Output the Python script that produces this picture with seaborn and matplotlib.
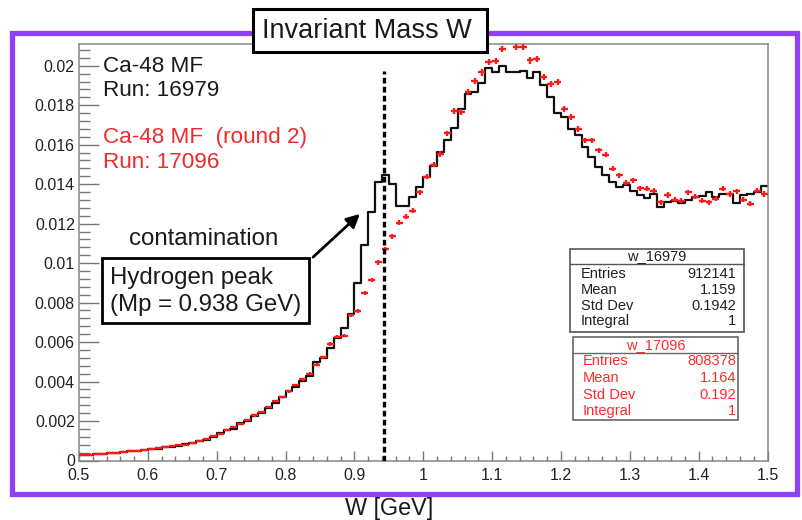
import numpy as np
import pandas as pd
import matplotlib
matplotlib.use("Agg")
import matplotlib.pyplot as plt
from matplotlib.patches import Rectangle, FancyArrowPatch
from matplotlib.lines import Line2D
from matplotlib.ticker import MultipleLocator, FixedLocator, FixedFormatter
import seaborn as sns

# ---------------- data ----------------
W_MIN, W_MAX, N_BINS = 0.5, 1.5, 100

# run 16979 (black histogram), normalised bin contents, bins of 0.01 GeV from 0.50 to 1.50
w_16979 = [
    0.00028, 0.00030, 0.00032, 0.00035, 0.00036, 0.00038, 0.00044, 0.00046, 0.00050, 0.00053,
    0.00057, 0.00060, 0.00066, 0.00070, 0.00074, 0.00082, 0.00090, 0.00098, 0.00106, 0.00120,
    0.00140, 0.00152, 0.00162, 0.00190, 0.00200, 0.00226, 0.00240, 0.00268, 0.00290, 0.00322,
    0.00350, 0.00370, 0.00402, 0.00430, 0.00498, 0.00520, 0.00568, 0.00622, 0.00670, 0.00740,
    0.00900, 0.01090, 0.01260, 0.01410, 0.01445, 0.01400, 0.01288, 0.01288, 0.01333, 0.01387,
    0.01438, 0.01494, 0.01561, 0.01624, 0.01684, 0.01780, 0.01857, 0.01865, 0.01910, 0.01990,
    0.01970, 0.02000, 0.01970, 0.01970, 0.01975, 0.01940, 0.01970, 0.01900, 0.01842, 0.01762,
    0.01740, 0.01681, 0.01647, 0.01588, 0.01538, 0.01487, 0.01445, 0.01411, 0.01386, 0.01394,
    0.01367, 0.01345, 0.01330, 0.01350, 0.01286, 0.01308, 0.01316, 0.01303, 0.01320, 0.01337,
    0.01342, 0.01359, 0.01333, 0.01350, 0.01350, 0.01303, 0.01345, 0.01350, 0.01360, 0.01392,
]

# run 17096 (red points), same binning
w_17096 = [
    0.00027, 0.00029, 0.00031, 0.00034, 0.00037, 0.00040, 0.00043, 0.00048, 0.00050, 0.00055,
    0.00059, 0.00063, 0.00066, 0.00072, 0.00078, 0.00076, 0.00090, 0.00098, 0.00108, 0.00122,
    0.00136, 0.00152, 0.00170, 0.00186, 0.00205, 0.00228, 0.00246, 0.00272, 0.00300, 0.00322,
    0.00350, 0.00382, 0.00412, 0.00440, 0.00486, 0.00523, 0.00590, 0.00628, 0.00633, 0.00735,
    0.00756, 0.00847, 0.00915, 0.01004, 0.01070, 0.01136, 0.01205, 0.01235, 0.01266, 0.01359,
    0.01438, 0.01499, 0.01553, 0.01657, 0.01772, 0.01767, 0.01865, 0.01924, 0.01966, 0.02017,
    0.02022, 0.02086, 0.02140, 0.02094, 0.02094, 0.02027, 0.02035, 0.01943, 0.01909, 0.01917,
    0.01782, 0.01740, 0.01681, 0.01622, 0.01622, 0.01571, 0.01549, 0.01478, 0.01445, 0.01408,
    0.01419, 0.01380, 0.01376, 0.01367, 0.01308, 0.01345, 0.01320, 0.01316, 0.01359, 0.01337,
    0.01316, 0.01308, 0.01325, 0.01376, 0.01350, 0.01364, 0.01320, 0.01300, 0.01367, 0.01350,
]

xtick_values = [0.5, 0.6, 0.7, 0.8, 0.9, 1.0, 1.1, 1.2, 1.3, 1.4, 1.5]
xtick_labels = ["0.5", "0.6", "0.7", "0.8", "0.9", "1", "1.1", "1.2", "1.3", "1.4", "1.5"]
ytick_values = [0, 0.002, 0.004, 0.006, 0.008, 0.01, 0.012, 0.014, 0.016, 0.018, 0.02]
ytick_labels = ["0", "0.002", "0.004", "0.006", "0.008", "0.01", "0.012", "0.014",
                "0.016", "0.018", "0.02"]

stat_names = ["Entries", "Mean", "Std Dev", "Integral"]
stats_16979 = ["912141", "1.159", "0.1942", "1"]
stats_17096 = ["808378", "1.164", "0.192", "1"]
entries_17096 = 808378
proton_line_w = 0.943

title_text = "Invariant Mass W"
xlabel_text = "W [GeV]"

# ---------------- style ----------------
sns.set_style("white")
plt.rcParams["font.family"] = ["Liberation Sans", "DejaVu Sans"]

FW, FH = 802, 520
fig = plt.figure(figsize=(FW / 100, FH / 100), dpi=100)


def fx(x):
    return x / FW


def fy(y):
    return 1 - y / FH


AX_L, AX_R, AX_T, AX_B = 79, 767.5, 44, 460.5
ax = fig.add_axes([fx(AX_L), fy(AX_B), (AX_R - AX_L) / FW, (AX_B - AX_T) / FH])

edges = np.linspace(W_MIN, W_MAX, N_BINS + 1)
centers = 0.5 * (edges[:-1] + edges[1:])
df = pd.DataFrame({"W": centers, "w16979": w_16979, "w17096": w_17096})

sns.histplot(data=df, x="W", weights="w16979", bins=[float(e) for e in edges],
             element="step", fill=False, color="#111111", linewidth=1.6, ax=ax, zorder=2)

red_vals = np.asarray(w_17096)
ax.errorbar(df["W"], red_vals, xerr=0.005, yerr=np.sqrt(red_vals / entries_17096),
            fmt="none", ecolor="#ff1a1a", elinewidth=1.7, capsize=0, zorder=3)

ax.plot([proton_line_w, proton_line_w], [0, 0.01975], color="black", lw=2.4,
        dashes=(1.7, 1.0), zorder=4, solid_capstyle="butt")

ax.set_xlim(W_MIN, W_MAX)
ax.set_ylim(0, 0.0211)
ax.set_xlabel("")
ax.set_ylabel("")

ax.xaxis.set_major_locator(FixedLocator(xtick_values))
ax.xaxis.set_major_formatter(FixedFormatter(xtick_labels))
ax.yaxis.set_major_locator(FixedLocator(ytick_values))
ax.yaxis.set_major_formatter(FixedFormatter(ytick_labels))
ax.xaxis.set_minor_locator(MultipleLocator(0.02))
ax.yaxis.set_minor_locator(MultipleLocator(0.0004))

tick_col = "#777777"
ax.tick_params(axis="y", which="major", direction="in", length=14.5, width=1,
               color=tick_col, labelsize=11.5, pad=3, labelcolor="#222222")
ax.tick_params(axis="y", which="minor", direction="in", length=8, width=1, color=tick_col)
ax.tick_params(axis="x", which="major", direction="in", length=7.5, width=1,
               color=tick_col, labelsize=11.5, pad=5.2, labelcolor="#222222")
ax.tick_params(axis="x", which="minor", direction="in", length=3.8, width=1, color=tick_col)
ax.tick_params(left=True, bottom=True, which="both")
for s in ax.spines.values():
    s.set_color("#888888")
    s.set_linewidth(1.1)

# ---------------- annotations ----------------
black_txt = "#1a1a1a"
red_txt = "#f02a2a"
fig.text(fx(103), fy(67), "Ca-48 MF", fontsize=16.2, color=black_txt, va="center", ha="left")
fig.text(fx(103), fy(91), "Run: 16979", fontsize=16.2, color=black_txt, va="center", ha="left")
fig.text(fx(103), fy(138), "Ca-48 MF  (round 2)", fontsize=16.2, color=red_txt, va="center", ha="left")
fig.text(fx(103), fy(162), "Run: 17096", fontsize=16.2, color=red_txt, va="center", ha="left")

fig.text(fx(204), fy(239), "contamination", fontsize=17.3, color=black_txt, va="center", ha="center")

fig.add_artist(Rectangle((fx(102), fy(323)), (309 - 102) / FW, (323 - 258) / FH,
                         transform=fig.transFigure, facecolor="white",
                         edgecolor="black", lw=2, zorder=5))
fig.text(fx(110), fy(278), "Hydrogen peak", fontsize=17.3, color=black_txt, va="center",
         ha="left", zorder=6)
fig.text(fx(110), fy(305), "(Mp = 0.938 GeV)", fontsize=17.3, color=black_txt, va="center",
         ha="left", zorder=6)

fig.add_artist(FancyArrowPatch((fx(311), fy(259)), (fx(362), fy(212)),
                               transform=fig.transFigure, arrowstyle="-|>",
                               mutation_scale=20, lw=2, color="black", zorder=6))

# purple frame
fig.add_artist(Rectangle((fx(11.5), fy(494)), (797 - 11.5) / FW, (494 - 32.5) / FH,
                         transform=fig.transFigure, facecolor="none",
                         edgecolor="#8f42f5", lw=3.8, zorder=4))

# title box
fig.add_artist(Rectangle((fx(253), fy(52)), (487 - 253) / FW, (52 - 9) / FH,
                         transform=fig.transFigure, facecolor="white",
                         edgecolor="black", lw=2.2, zorder=7))
fig.text(fx(367), fy(31), title_text, fontsize=19.5, color=black_txt, va="center",
         ha="center", zorder=8)

fig.text(fx(389), fy(508), xlabel_text, fontsize=16.8, color=black_txt, va="center",
         ha="center", zorder=9)


# stats boxes
def stats_box(x0, x1, y0, yh, y1, title, values, color, edge, rows_y, lab_x, val_x):
    fig.add_artist(Rectangle((fx(x0), fy(y1)), (x1 - x0) / FW, (y1 - y0) / FH,
                             transform=fig.transFigure, facecolor="white",
                             edgecolor=edge, lw=1.2, zorder=5))
    fig.add_artist(Line2D([fx(x0), fx(x1)], [fy(yh), fy(yh)], transform=fig.transFigure,
                          color=edge, lw=1.0, zorder=6))
    fig.text(fx((x0 + x1) / 2), fy((y0 + yh) / 2), title, fontsize=10.5, color=color,
             ha="center", va="center", zorder=7)
    for name, val, ry in zip(stat_names, values, rows_y):
        fig.text(fx(lab_x), fy(ry), name, fontsize=10.5, color=color, ha="left",
                 va="center", zorder=7)
        fig.text(fx(val_x), fy(ry), val, fontsize=10.5, color=color, ha="right",
                 va="center", zorder=7)


stats_box(570, 744, 249, 264, 332, "w_16979", stats_16979, "#222222", "#555555",
          [274, 290, 306, 321], 581, 736)
stats_box(573, 738, 337, 353, 420, "w_17096", stats_17096, "#ff2a2a", "#666666",
          [361, 378, 395, 411], 583, 736)

fig.savefig("out.png", dpi=100)
